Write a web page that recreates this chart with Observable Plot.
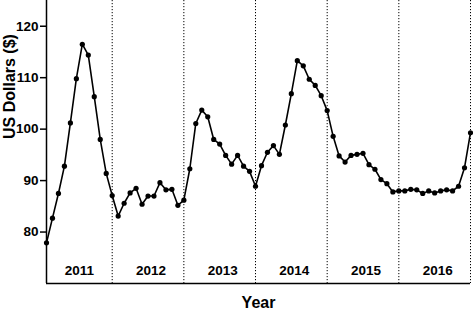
<!DOCTYPE html>
<html>
<head>
<meta charset="utf-8">
<script src="https://cdn.jsdelivr.net/npm/d3@7"></script>
<script src="https://cdn.jsdelivr.net/npm/@observablehq/plot@0.6"></script>
<style>
  html, body { margin: 0; padding: 0; background: #fff; }
</style>
</head>
<body>
<div id="chart"></div>
<script>
const years = ["2011", "2012", "2013", "2014", "2015", "2016"];
const prices2011 = [77.9, 82.7, 87.5, 92.8, 101.2, 109.8, 116.5, 114.4, 106.3, 98.0, 91.4, 87.1];
const prices2012 = [83.1, 85.6, 87.6, 88.5, 85.4, 87.0, 87.0, 89.6, 88.2, 88.3, 85.2, 86.2];
const prices2013 = [92.3, 101.1, 103.7, 102.4, 98.0, 97.1, 94.9, 93.2, 94.9, 92.8, 91.8, 88.9];
const prices2014 = [92.9, 95.5, 96.8, 95.1, 100.8, 106.9, 113.3, 112.3, 109.7, 108.5, 106.5, 103.6];
const prices2015 = [98.6, 94.8, 93.6, 94.9, 95.1, 95.3, 93.1, 92.2, 90.2, 89.4, 87.8, 88.0];
const prices2016 = [88.0, 88.3, 88.2, 87.5, 88.0, 87.6, 88.0, 88.2, 88.0, 88.9, 92.5, 99.3];
const yTicks = [80, 90, 100, 110, 120];

const series = [prices2011, prices2012, prices2013, prices2014, prices2015, prices2016];
const data = [];
series.forEach((arr, yi) => arr.forEach((v, m) => data.push({t: yi * 12 + m, v})));
const boundaries = years.map((_, i) => i * 12 + 11);
const yearLabels = years.map((y, i) => ({t: i * 12 + 5.5, label: y}));
const font = "'Liberation Sans', Arial, sans-serif";

const chart = Plot.plot({
  width: 473,
  height: 313,
  marginLeft: 46,
  marginRight: 3,
  marginTop: 0,
  marginBottom: 30,
  style: {fontFamily: font, background: "#fff", overflow: "visible"},
  x: {domain: [0, 71], axis: null},
  y: {domain: [70, 125], axis: null},
  marks: [
    Plot.ruleX(boundaries, {stroke: "#000", strokeWidth: 1, strokeDasharray: "1.2,1.8"}),
    Plot.ruleX([0], {stroke: "#000", strokeWidth: 1.5}),
    Plot.ruleY([70], {stroke: "#000", strokeWidth: 1.5}),
    Plot.axisY({
      ticks: yTicks,
      tickSize: 6,
      tickPadding: 2,
      tickFormat: d => String(d),
      fontSize: 13.5,
      fontWeight: "bold",
      stroke: "#000",
      strokeWidth: 1.5,
      color: "#000",
      label: null
    }),
    Plot.text(["US Dollars ($)"], {
      frameAnchor: "left", dx: -37, dy: -3, rotate: -90,
      fontSize: 16, fontWeight: "bold", fill: "#000"
    }),
    Plot.text(["Year"], {
      frameAnchor: "bottom", dy: 24,
      fontSize: 16, fontWeight: "bold", fill: "#000"
    }),
    Plot.text(yearLabels, {
      x: "t", text: "label", frameAnchor: "bottom", dy: -9,
      fontSize: 13.5, fontWeight: "bold", fill: "#000"
    }),
    Plot.line(data, {x: "t", y: "v", stroke: "#000", strokeWidth: 1.6}),
    Plot.dot(data, {x: "t", y: "v", r: 2.6, fill: "#000", stroke: "none"})
  ]
});
document.getElementById("chart").appendChild(chart);
</script>
</body>
</html>
